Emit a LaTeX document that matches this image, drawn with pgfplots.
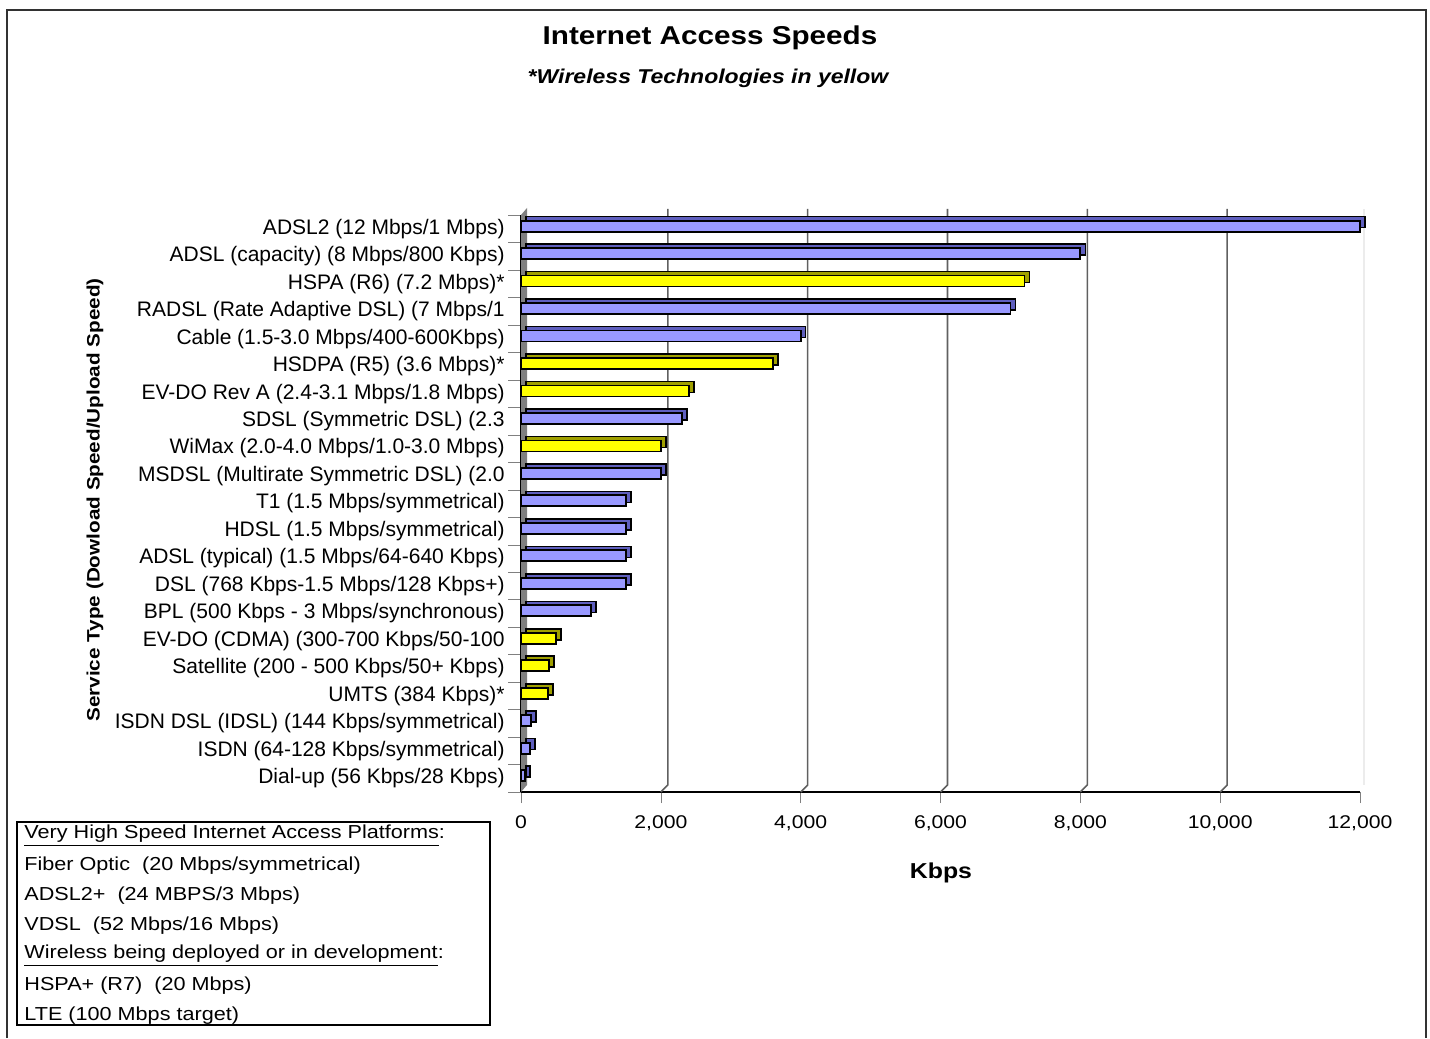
\documentclass[border=0pt]{standalone}
\usepackage{fontspec}
\setmainfont{Liberation Sans}[FakeStretch=1.15]
\newfontfamily\plainfont{Liberation Sans}
\usepackage{pgfplots}
\usepackage{pgfplotstable}
\pgfplotsset{compat=1.18}
\definecolor{barblue}{RGB}{153,153,255}
\definecolor{barblueD}{RGB}{95,95,190}
\definecolor{baryel}{RGB}{255,255,0}
\definecolor{baryelD}{RGB}{160,160,0}
\definecolor{framegray}{RGB}{50,50,50}
\definecolor{wallgray}{RGB}{128,128,128}

% value  category index (0 = bottom)
\pgfplotstableread{
val idx
56 0
128 1
144 2
1000 6
1500 7
1500 8
1500 9
1500 10
2000 11
2300 13
4000 16
7000 17
8000 19
12000 20
}\bluedata
\pgfplotstableread{
val idx
384 3
400 4
500 5
2000 12
2400 14
3600 15
7200 18
}\yellowdata

\begin{document}
\begin{tikzpicture}[x=1pt,y=1pt]
\path (0,0) rectangle (715,519);
\draw[line width=1pt, framegray] (3.5,0) -- (3.5,514) -- (713,514) -- (713,0);
\node[font=\fontsize{12.9}{14}\selectfont\bfseries] at (355,500) {Internet Access Speeds};
\node[font=\fontsize{10}{12}\selectfont\bfseries\itshape] at (354,480) {*Wireless Technologies in yellow};
\node[font=\fontsize{9}{11}\selectfont\bfseries, rotate=90] at (47.5,269) {Service Type (Dowload Speed/Upload Speed)};
\node[font=\fontsize{10.8}{12}\selectfont\bfseries] at (470.5,82.5) {Kbps};

\begin{axis}[
  at={(260.5pt,123pt)}, anchor=south west,
  scale only axis, width=419.5pt, height=288.5pt,
  xmin=0, xmax=12000, ymin=-0.5, ymax=20.5,
  clip=false,
  axis lines*=left,
  axis line style={black, line width=0.6pt},
  tick align=outside,
  major tick length=5.5pt,
  minor tick length=6.5pt,
  xtick={0,2000,...,12000},
  scaled x ticks=false,
  xticklabel style={font=\fontsize{9.2}{11}\selectfont, yshift=-3pt,
    /pgf/number format/.cd, 1000 sep={,}, assume math mode=true},
  ytick={0,...,20},
  major y tick style={draw=none},
  minor ytick={-0.5,0.5,...,20.5},
  yticklabel style={font=\plainfont\fontsize{10.5}{12}\selectfont, anchor=east, inner sep=0pt, xshift=-2.5pt},
  yticklabels={
    {Dial-up (56 Kbps/28 Kbps)},
    {ISDN (64-128 Kbps/symmetrical)},
    {ISDN DSL (IDSL) (144 Kbps/symmetrical)},
    {UMTS (384 Kbps)*},
    {Satellite (200 - 500 Kbps/50+ Kbps)},
    {EV-DO (CDMA) (300-700 Kbps/50-100},
    {BPL (500 Kbps - 3 Mbps/synchronous)},
    {DSL (768 Kbps-1.5 Mbps/128 Kbps+)},
    {ADSL (typical) (1.5 Mbps/64-640 Kbps)},
    {HDSL (1.5 Mbps/symmetrical)},
    {T1 (1.5 Mbps/symmetrical)},
    {MSDSL (Multirate Symmetric DSL) (2.0},
    {WiMax (2.0-4.0 Mbps/1.0-3.0 Mbps)},
    {SDSL (Symmetric DSL) (2.3},
    {EV-DO Rev A (2.4-3.1 Mbps/1.8 Mbps)},
    {HSDPA (R5) (3.6 Mbps)*},
    {Cable (1.5-3.0 Mbps/400-600Kbps)},
    {RADSL (Rate Adaptive DSL) (7 Mbps/1},
    {HSPA (R6) (7.2 Mbps)*},
    {ADSL (capacity) (8 Mbps/800 Kbps)},
    {ADSL2 (12 Mbps/1 Mbps)}
  },
]
% back wall grid lines and floor marks
\pgfplotsinvokeforeach{2000,4000,6000,8000,10000}{
  \draw[gray!75!black, line width=0.8pt] (axis cs:#1,-0.5) -- ++(3.5pt,3.5pt) -- ([shift={(3.5pt,3pt)}]axis cs:#1,20.5);
}
\draw[gray!15, line width=0.6pt] ([shift={(2pt,3.5pt)}]axis cs:12000,-0.5) -- ([shift={(2pt,3pt)}]axis cs:12000,20.5);
% side wall
\fill[wallgray] (axis cs:0,-0.5) -- (axis cs:0,20.5) -- ([shift={(3pt,3.5pt)}]axis cs:0,20.5) -- ([shift={(3pt,3.5pt)}]axis cs:0,-0.5) -- cycle;

% blue bars (depth, then front)
\addplot[xbar, bar width=5.5pt, bar shift=1.3pt, fill=barblueD, draw=black, line width=0.8pt, xshift=2.5pt, yshift=2pt] table[x=val, y=idx] {\bluedata};
\addplot[xbar, bar width=5.5pt, bar shift=1.3pt, fill=barblue, draw=black, line width=0.9pt] table[x=val, y=idx] {\bluedata};
% yellow bars
\addplot[xbar, bar width=5.5pt, bar shift=1.3pt, fill=baryelD, draw=black, line width=0.8pt, xshift=2.5pt, yshift=2pt] table[x=val, y=idx] {\yellowdata};
\addplot[xbar, bar width=5.5pt, bar shift=1.3pt, fill=baryel, draw=black, line width=0.9pt] table[x=val, y=idx] {\yellowdata};
\end{axis}

% note box
\draw[line width=0.8pt] (8.5,6.5) rectangle (245,108);
\begin{scope}[every node/.style={anchor=west, inner sep=0pt, font=\fontsize{9.4}{11}\selectfont}]
\node at (12,101) {\underline{Very High Speed Internet Access Platforms}:};
\node at (12,86) {Fiber Optic\ \ (20 Mbps/symmetrical)};
\node at (12,71) {ADSL2+\ \ (24 MBPS/3 Mbps)};
\node at (12,56) {VDSL\ \ (52 Mbps/16 Mbps)};
\node at (12,41) {\underline{Wireless being deployed or in development}:};
\node at (12,26) {HSPA+ (R7)\ \ (20 Mbps)};
\node at (12,11) {LTE (100 Mbps target)};
\end{scope}
\end{tikzpicture}
\end{document}
